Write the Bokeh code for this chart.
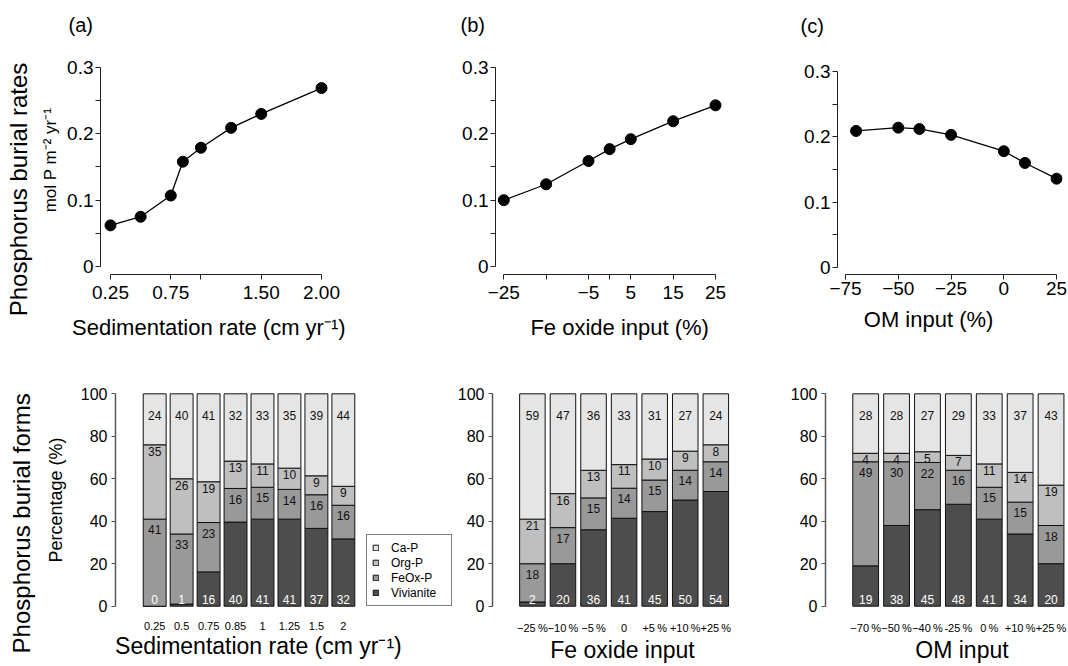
from bokeh.plotting import figure
from bokeh.layouts import column, row
from bokeh.models import Range1d, LinearAxis, FixedTicker, Title, Legend, LegendItem
from bokeh.embed import file_html
from bokeh.resources import INLINE
from bokeh.core.properties import value

FONT = "Liberation Sans"
NB = "\u00a0"

# ---------------- data: top panels (P burial rate, mol P m-2 yr-1) ----------------
sed_rate = [0.25, 0.5, 0.75, 0.85, 1.0, 1.25, 1.5, 2.0]
sed_burial = [0.062, 0.075, 0.107, 0.158, 0.179, 0.209, 0.230, 0.269]
fe_change = [-25, -15, -5, 0, 5, 15, 25]
fe_burial = [0.100, 0.124, 0.159, 0.177, 0.192, 0.219, 0.243]
om_change = [-70, -50, -40, -25, 0, 10, 25]
om_burial = [0.209, 0.214, 0.212, 0.203, 0.178, 0.160, 0.136]

sed_ticks = [0.25, 0.75, 1.0, 1.5, 2.0]
sed_tick_labels = ["0.25", "0.75", " ", "1.50", "2.00"]
fe_ticks = [-25, -15, -5, 0, 5, 15, 25]
fe_tick_labels = ["\u221225", " ", "\u22125", " ", "5", "15", "25"]
om_ticks = [-75, -50, -25, 0, 25]
om_tick_labels = ["\u221275", "\u221250", "\u221225", "0", "25"]
rate_ticks = [0, 0.1, 0.2, 0.3]
rate_tick_labels = ["0", "0.1", "0.2", "0.3"]
rate_minor = [0.05, 0.15, 0.25]

# ---------------- data: bottom panels (P burial forms, %) ----------------
forms = ["Ca-P", "Org-P", "FeOx-P", "Vivianite"]
form_colors = ["#e5e5e5", "#bfbfbf", "#999999", "#4d4d4d"]

sed_cats = ["0.25", "0.5", "0.75", "0.85", "1", "1.25", "1.5", "2"]
sed_viv = [0, 1, 16, 40, 41, 41, 37, 32]
sed_feox = [41, 33, 23, 16, 15, 14, 16, 16]
sed_org = [35, 26, 19, 13, 11, 10, 9, 9]
sed_cap = [24, 40, 41, 32, 33, 35, 39, 44]

fe_cats = ["\u221225\u2009%", "\u221210\u2009%", "\u22125\u2009%", "0", "+5\u2009%", "+10\u2009%", "+25\u2009%"]
fe_viv = [2, 20, 36, 41, 45, 50, 54]
fe_feox = [18, 17, 15, 14, 15, 14, 14]
fe_org = [21, 16, 13, 11, 10, 9, 8]
fe_cap = [59, 47, 36, 33, 31, 27, 24]

om_cats = ["\u221270\u2009%", "\u221250\u2009%", "\u221240\u2009%", "-25\u2009%", "0\u2009%", "+10\u2009%", "+25\u2009%"]
om_viv = [19, 38, 45, 48, 41, 34, 20]
om_feox = [49, 30, 22, 16, 15, 15, 18]
om_org = [4, 4, 5, 7, 11, 14, 19]
om_cap = [28, 28, 27, 29, 33, 37, 43]

pct_ticks = [0, 20, 40, 60, 80, 100]

TOP_H = 345
BOT_H = 666 - TOP_H


def pad(text, lead=0, trail=0):
    return NB * lead + text + NB * trail


def base_style(p):
    p.outline_line_color = None
    p.xgrid.visible = False
    p.ygrid.visible = False
    p.background_fill_color = "white"
    p.border_fill_color = "white"


def axis_fonts(ax, tick_size, label_size):
    ax.major_label_text_font = FONT
    ax.major_label_text_font_size = tick_size
    ax.major_label_text_color = "black"
    ax.axis_label_text_font = FONT
    ax.axis_label_text_font_size = label_size
    ax.axis_label_text_font_style = "normal"
    ax.axis_label_text_color = "black"


def big_label_axis(p, text, standoff):
    ax = LinearAxis(ticker=FixedTicker(ticks=[]), axis_label=text)
    ax.axis_line_color = None
    ax.major_tick_out = 0
    ax.major_tick_in = 0
    ax.minor_tick_out = 0
    ax.minor_tick_in = 0
    axis_fonts(ax, "0px", "24px")
    ax.axis_label_standoff = standoff
    p.add_layout(ax, "left")


def top_panel(width, bl, br, bt, bb, xr, yr, xs, ys, xticks, xlabels, xtitle,
              tag, tag_off, tag_lh, small=None, big=None):
    title = Title(text=tag + "\n" + NB, align="left", offset=tag_off, standoff=0,
                  vertical_align="bottom", text_line_height=tag_lh,
                  text_font=FONT, text_font_size="20px", text_font_style="normal",
                  text_color="black")
    p = figure(width=width, height=TOP_H, x_range=Range1d(*xr), y_range=Range1d(*yr),
               output_backend="svg", toolbar_location=None, title=title,
               min_border_left=bl, min_border_right=br,
               min_border_top=bt, min_border_bottom=bb)
    base_style(p)
    p.line(xs, ys, line_color="black", line_width=1.3)
    p.scatter(xs, ys, size=11, color="black")

    xa = p.xaxis[0]
    xa.ticker = FixedTicker(ticks=xticks)
    xa.major_label_overrides = dict(zip(xticks, xlabels))
    xa.bounds = (xticks[0], xticks[-1])
    xa.major_tick_in = 0
    xa.major_tick_out = 5
    xa.minor_tick_out = 0
    xa.axis_line_color = "#222222"
    xa.major_tick_line_color = "#222222"
    xa.major_label_standoff = 2
    xa.axis_label = xtitle
    xa.axis_label_standoff = 9
    axis_fonts(xa, "19px", "22px")

    ya = p.yaxis[0]
    ya.ticker = FixedTicker(ticks=rate_ticks, minor_ticks=rate_minor)
    ya.major_label_overrides = dict(zip(rate_ticks, rate_tick_labels))
    ya.bounds = (rate_ticks[0], rate_ticks[-1])
    ya.major_tick_in = 0
    ya.major_tick_out = 5
    ya.minor_tick_in = 0
    ya.minor_tick_out = 5
    ya.axis_line_color = "#222222"
    ya.major_tick_line_color = "#222222"
    ya.minor_tick_line_color = "#222222"
    ya.major_label_standoff = 2
    axis_fonts(ya, "19px", "17px")
    if small:
        ya.axis_label = small
        ya.axis_label_standoff = 4
    if big:
        big_label_axis(p, big, 7)
    return p


def bar_panel(width, bl, br, xr, cats, viv, feox, org, cap, bar_w, xtitle,
              small=None, big=None, legend_loc=None):
    p = figure(width=width, height=BOT_H, x_range=Range1d(*xr), y_range=Range1d(-1.08, 101.09),
               output_backend="svg", toolbar_location=None,
               min_border_left=bl, min_border_right=br,
               min_border_top=391 - TOP_H, min_border_bottom=58)
    base_style(p)
    n = len(cats)
    xs = list(range(n))
    tot = [a + b + c + d for a, b, c, d in zip(viv, feox, org, cap)]
    v_top = [100.0 * a / t for a, t in zip(viv, tot)]
    f_top = [100.0 * (a + b) / t for a, b, t in zip(viv, feox, tot)]
    o_top = [100.0 * (a + b + c) / t for a, b, c, t in zip(viv, feox, org, tot)]
    c_top = [100.0] * n
    zeros = [0.0] * n
    color = dict(zip(forms, form_colors))
    segs = [("Vivianite", zeros, v_top), ("FeOx-P", v_top, f_top),
            ("Org-P", f_top, o_top), ("Ca-P", o_top, c_top)]
    rend = {}
    for name, b, t in segs:
        rend[name] = p.vbar(x=xs, bottom=b, top=t, width=bar_w,
                            fill_color=color[name], line_color="#111111", line_width=1)

    def lab(ys, vals, col):
        p.text(x=xs, y=ys, text=[str(v) for v in vals], text_align="center",
               text_baseline="middle", text_font=value(FONT), text_font_size="12px",
               text_color=col)

    lab([90.0] * n, cap, "#111111")
    lab([t - 3.0 for t in o_top], org, "#111111")
    lab([t - 5.0 for t in f_top], feox, "#111111")
    lab([3.3] * n, viv, "white")

    xa = p.xaxis[0]
    xa.ticker = FixedTicker(ticks=xs)
    xa.major_label_overrides = dict(zip(xs, cats))
    xa.axis_line_color = None
    xa.major_tick_in = 0
    xa.major_tick_out = 0
    xa.minor_tick_out = 0
    xa.minor_tick_in = 0
    xa.major_label_standoff = 13
    xa.axis_label = xtitle
    xa.axis_label_standoff = 0
    axis_fonts(xa, "11px", "23px")

    ya = p.yaxis[0]
    ya.ticker = FixedTicker(ticks=pct_ticks)
    ya.bounds = (0, 100)
    ya.major_tick_in = 0
    ya.major_tick_out = 4
    ya.minor_tick_out = 0
    ya.minor_tick_in = 0
    ya.axis_line_color = "#555555"
    ya.axis_line_width = 1.5
    ya.major_tick_line_color = "#555555"
    ya.major_label_standoff = 4
    axis_fonts(ya, "16px", "18px")
    if small:
        ya.axis_label = small
        ya.axis_label_standoff = 12
    if big:
        big_label_axis(p, big, 8)

    if legend_loc is not None:
        items = [LegendItem(label=name, renderers=[rend[name]]) for name in forms]
        leg = Legend(items=items, location=legend_loc, orientation="vertical",
                     border_line_color="black", border_line_width=1,
                     background_fill_color="white", background_fill_alpha=1.0,
                     padding=5, spacing=0, margin=0,
                     glyph_width=7, glyph_height=7, label_height=15,
                     label_standoff=12, label_width=55,
                     label_text_font=FONT, label_text_font_size="12px",
                     label_text_color="black")
        p.add_layout(leg)
    return p


sup = "m\u207b\u00b2 yr\u207b\u00b9"

t1 = top_panel(370, 100, 35, 64, TOP_H - 274, (0.167, 2.116), (-0.01206, 0.3045),
               sed_rate, sed_burial, sed_ticks, sed_tick_labels,
               pad("Sedimentation rate (cm yr\u207b\u00b9)", 0, 3), "(a)", -32, 1.3,
               small=pad("mol P " + sup, 4, 0), big=pad("Phosphorus burial rates", 0, 6))
t2 = top_panel(362, 125, 7, 64, TOP_H - 274, (-26.96, 27.36), (-0.01206, 0.3045),
               fe_change, fe_burial, fe_ticks, fe_tick_labels,
               pad("Fe oxide input (%)", 3, 0), "(b)", -35, 1.3)
t3 = top_panel(336, 105, 6, 64, TOP_H - 277, (-78.8, 27.8), (-0.01055, 0.3106),
               om_change, om_burial, om_ticks, om_tick_labels,
               pad("OM input (%)", 0, 7), "(c)", -37, 1.23)

b1 = bar_panel(454, 115, 2, (-1.454, 11.05), sed_cats, sed_viv, sed_feox, sed_org, sed_cap,
               0.85, pad("Sedimentation rate (cm yr\u207b\u00b9)", 0, 8),
               small="Percentage (%)", big=pad("Phosphorus burial forms", 0, 7),
               legend_loc=(251, 2))
b2 = bar_panel(316, 36, 18, (-1.305, 7.2), fe_cats, fe_viv, fe_feox, fe_org, fe_cap,
               0.835, "Fe oxide input")
b3 = bar_panel(298, 55, 2, (-1.30, 6.50), om_cats, om_viv, om_feox, om_org, om_cap,
               0.835, pad("OM input", 5, 0))

layout = column(row(t1, t2, t3), row(b1, b2, b3))
open("out.html", "w").write(file_html(layout, INLINE))
